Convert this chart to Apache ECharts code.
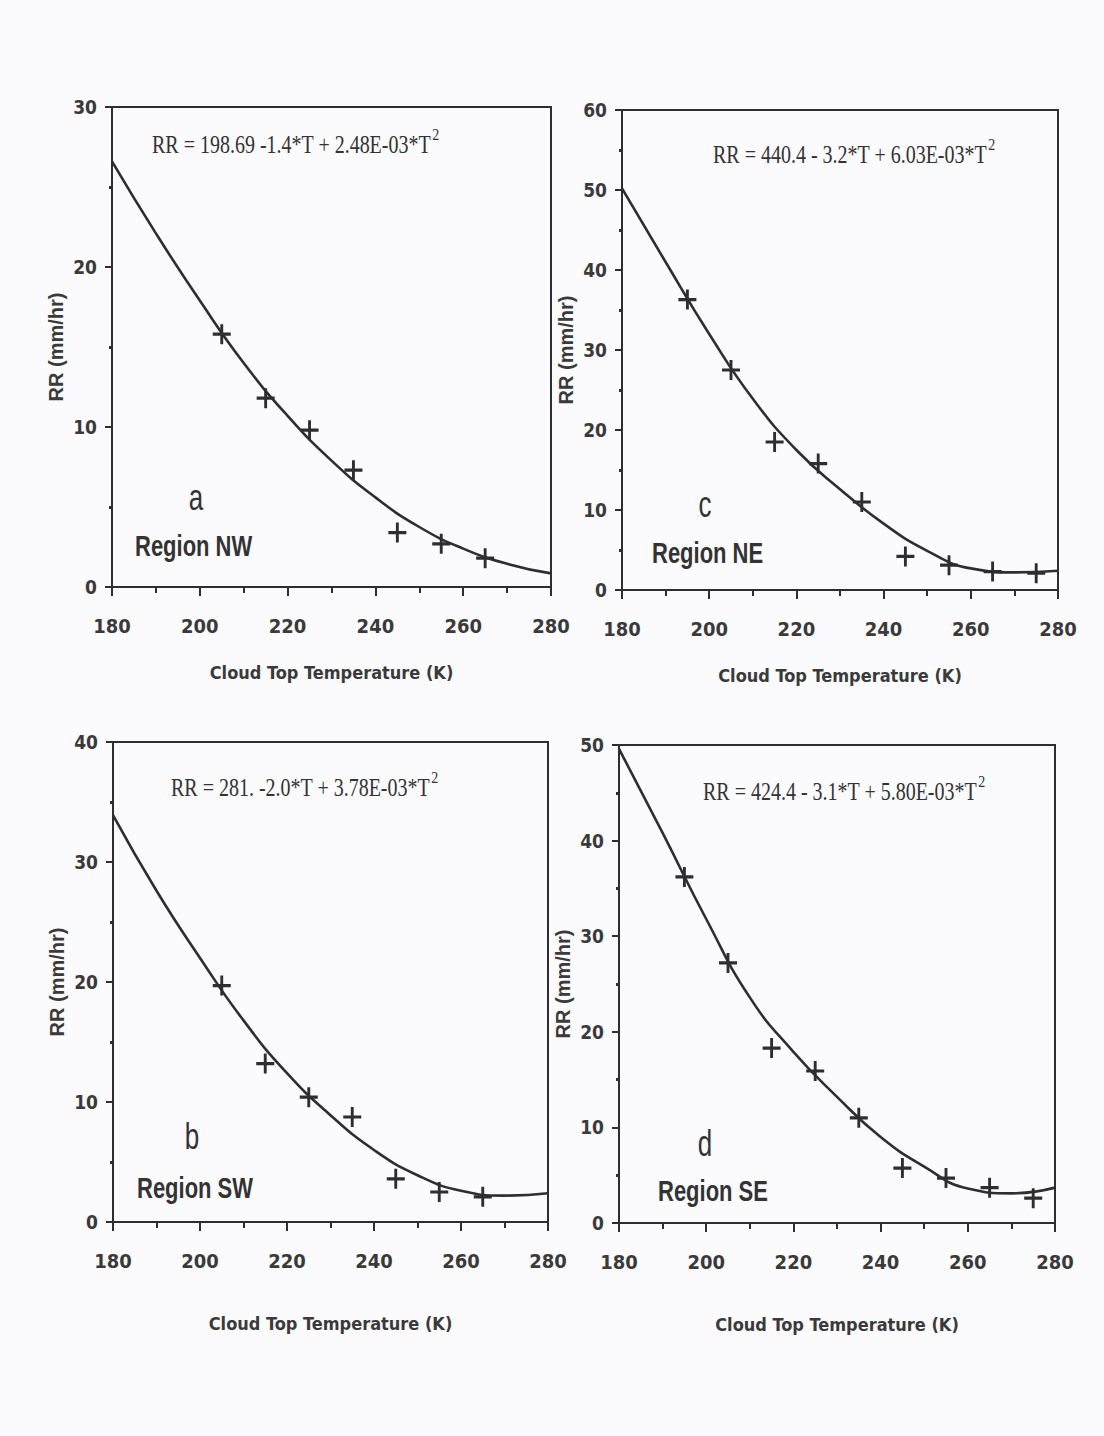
<!DOCTYPE html>
<html>
<head>
<meta charset="utf-8">
<script src="https://cdn.jsdelivr.net/npm/echarts@6/dist/echarts.min.js"></script>
<style>
html,body{margin:0;padding:0;background:#fbfbfd;}
#c{width:1104px;height:1436px;}
</style>
</head>
<body>
<div id="c"></div>
<script>
// ---- data ----
const T_FIT = [180, 190, 200, 210, 220, 230, 240, 250, 260, 270, 280];

const T_PTS_NW = [205, 215, 225, 235, 245, 255, 265];
const RR_PTS_NW = [15.8, 11.8, 9.8, 7.3, 3.4, 2.7, 1.8];
const RR_FIT_NW = [26.6, 22.1, 17.9, 14.0, 10.7, 7.9, 5.6, 3.75, 2.4, 1.45, 0.85];

const T_PTS_NE = [195, 205, 215, 225, 235, 245, 255, 265, 275];
const RR_PTS_NE = [36.3, 27.5, 18.5, 15.8, 11.0, 4.2, 3.1, 2.3, 2.1];
const RR_FIT_NE = [50.2, 41.0, 32.0, 23.9, 17.5, 12.6, 8.3, 4.9, 2.7, 2.2, 2.4];

const T_PTS_SW = [205, 215, 225, 235, 245, 255, 265];
const RR_PTS_SW = [19.7, 13.2, 10.4, 8.75, 3.6, 2.5, 2.1];
const RR_FIT_SW = [33.9, 27.6, 22.0, 16.8, 12.4, 8.9, 6.0, 3.9, 2.6, 2.2, 2.4];

const T_PTS_SE = [195, 205, 215, 225, 235, 245, 255, 265, 275];
const RR_PTS_SE = [36.2, 27.2, 18.3, 15.9, 11.0, 5.75, 4.7, 3.7, 2.6];
const RR_FIT_SE = [49.6, 40.8, 31.8, 23.6, 17.9, 13.2, 9.0, 5.9, 3.6, 3.1, 3.7];

const X_MIN = 180, X_MAX = 280, X_STEP = 20;
const Y_MAX = [30, 60, 40, 50];          // NW, NE, SW, SE
const Y_STEP = 10;

const EQUATIONS = [
  'RR = 198.69 -1.4*T + 2.48E-03*T',
  'RR = 440.4 - 3.2*T + 6.03E-03*T',
  'RR = 281. -2.0*T + 3.78E-03*T',
  'RR = 424.4 - 3.1*T + 5.80E-03*T'
];
const LETTERS = ['a', 'c', 'b', 'd'];
const REGIONS = ['Region NW', 'Region NE', 'Region SW', 'Region SE'];
const X_TITLE = 'Cloud Top Temperature (K)';
const Y_TITLE = 'RR (mm/hr)';

// ---- layout ----
const INK = '#2e2e2e';
const NARROW = "'Liberation Sans Narrow','DejaVu Sans Condensed','Liberation Sans',Arial,sans-serif";
const SANS = "'Liberation Sans',Arial,sans-serif";
const SERIF = "'Liberation Serif','Times New Roman',serif";

const grids = [
  {left: 112, top: 107, width: 439, height: 480},
  {left: 622, top: 110, width: 436, height: 480},
  {left: 113, top: 742, width: 435, height: 480},
  {left: 619, top: 745, width: 436, height: 478}
];
const xNameGap = [76, 76, 92, 92];

const pts = [
  [T_PTS_NW, RR_PTS_NW], [T_PTS_NE, RR_PTS_NE],
  [T_PTS_SW, RR_PTS_SW], [T_PTS_SE, RR_PTS_SE]
];
const fits = [RR_FIT_NW, RR_FIT_NE, RR_FIT_SW, RR_FIT_SE];

const PLUS = 'path://M4.2,0 H5.8 V4.2 H10 V5.8 H5.8 V10 H4.2 V5.8 H0 V4.2 H4.2 Z';

const xAxis = [], yAxis = [], series = [];
grids.forEach((g, i) => {
  g.show = true;
  g.borderColor = INK;
  g.borderWidth = 2;
  g.backgroundColor = 'transparent';
  xAxis.push({
    gridIndex: i, type: 'value', min: X_MIN, max: X_MAX, interval: X_STEP,
    axisLine: {show: true, onZero: false, lineStyle: {color: INK, width: 2}},
    axisTick: {show: true, inside: false, length: 9, lineStyle: {color: INK, width: 2}},
    minorTick: {show: true, splitNumber: 2, length: 6, lineStyle: {color: INK, width: 2}},
    splitLine: {show: false},
    axisLabel: {margin: 29, fontSize: 20, fontFamily: NARROW, fontWeight: 'bold', color: '#3a3a3a'},
    name: X_TITLE, nameLocation: 'middle', nameGap: xNameGap[i],
    nameTextStyle: {fontSize: 18, fontFamily: NARROW, fontWeight: 'bold', color: '#3a3a3a'}
  });
  yAxis.push({
    gridIndex: i, type: 'value', min: 0, max: Y_MAX[i], interval: Y_STEP,
    axisLine: {show: true, onZero: false, lineStyle: {color: INK, width: 2}},
    axisTick: {show: true, inside: false, length: 7, lineStyle: {color: INK, width: 2}},
    minorTick: {show: true, splitNumber: 2, length: 3, lineStyle: {color: INK, width: 3}},
    splitLine: {show: false},
    axisLabel: {margin: 15, fontSize: 19, fontFamily: NARROW, fontWeight: 'bold', color: '#3a3a3a'},
    name: Y_TITLE, nameLocation: 'middle', nameGap: 46, nameRotate: 90,
    nameTextStyle: {fontSize: 20, fontFamily: SANS, fontWeight: 'bold', color: '#3a3a3a'}
  });
  series.push({
    type: 'line', xAxisIndex: i, yAxisIndex: i,
    data: T_FIT.map((t, k) => [t, fits[i][k]]),
    smooth: 0.5, showSymbol: false, silent: true,
    lineStyle: {color: INK, width: 2.6}
  });
  series.push({
    type: 'scatter', xAxisIndex: i, yAxisIndex: i,
    data: pts[i][0].map((t, k) => [t, pts[i][1][k]]),
    symbol: PLUS, symbolSize: [18, 20], silent: true,
    itemStyle: {color: INK, opacity: 1}
  });
});

// annotation positions (pixels)
const eqPos = [[152, 141], [713, 151], [171, 784], [703, 788]];
const letterPos = [[196, 497], [705, 504], [192, 1136], [705, 1143]];
const regionPos = [[135, 546], [652, 553], [137, 1188], [658, 1191]];

const graphic = [];
EQUATIONS.forEach((eq, i) => {
  graphic.push({
    type: 'text', x: eqPos[i][0], y: eqPos[i][1], scaleY: 1.25,
    style: {
      text: '{m|' + eq + '}{s|2}',
      textAlign: 'left', textVerticalAlign: 'middle',
      rich: {
        m: {fontSize: 20, fontFamily: SERIF, fill: '#333', lineHeight: 26, verticalAlign: 'bottom'},
        s: {fontSize: 14, fontFamily: SERIF, fill: '#333', lineHeight: 26, verticalAlign: 'top', padding: [0, 0, 12, 1]}
      }
    }
  });
  graphic.push({
    type: 'text', x: letterPos[i][0], y: letterPos[i][1], scaleY: 1.4,
    style: {text: LETTERS[i], font: '26px ' + SANS, fill: '#333', textAlign: 'center', textVerticalAlign: 'middle'}
  });
  graphic.push({
    type: 'text', x: regionPos[i][0], y: regionPos[i][1], scaleY: 1.3,
    style: {text: REGIONS[i], font: 'bold 22px ' + SANS, fill: '#333', textAlign: 'left', textVerticalAlign: 'middle'}
  });
});

const chart = echarts.init(document.getElementById('c'), null, {renderer: 'svg', width: 1104, height: 1436});
chart.setOption({
  backgroundColor: '#fbfbfd',
  animation: false,
  grid: grids,
  xAxis: xAxis,
  yAxis: yAxis,
  series: series,
  graphic: graphic
});
</script>
</body>
</html>
